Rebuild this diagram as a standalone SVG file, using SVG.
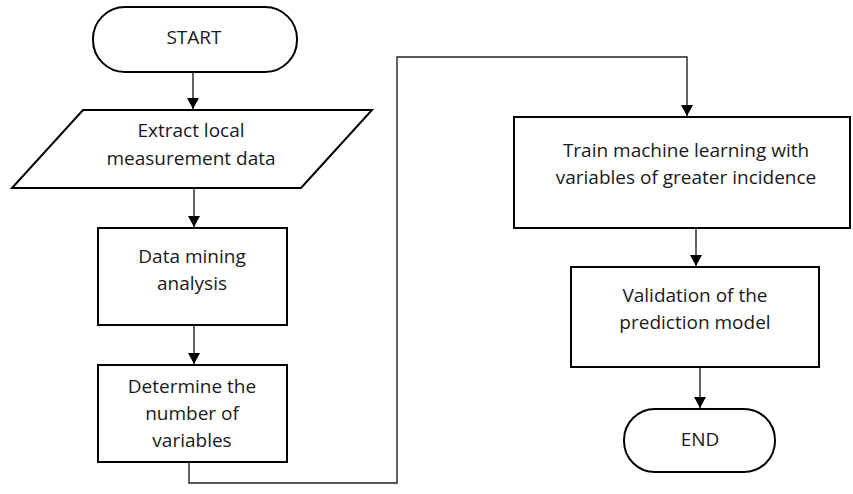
<svg xmlns="http://www.w3.org/2000/svg" width="853" height="494" viewBox="0 0 853 494">
<defs>
<marker id="ah" markerUnits="userSpaceOnUse" markerWidth="12" markerHeight="12" refX="11" refY="6" orient="auto" viewBox="0 0 12 12">
<path d="M0,0 L11,6 L0,12 Z" fill="#000"/>
</marker>
<style>
.shape{fill:#fff;stroke:#000;stroke-width:2}
.t{font-family:"Open Sans","Liberation Sans",sans-serif;font-size:19px;fill:#1a1a1a;text-anchor:middle}
.c{fill:none;stroke:#222;stroke-width:1.4}
</style>
</defs>
<rect width="853" height="494" fill="#fff"/>
<g id="connectors">
<line class="c" x1="193" y1="72" x2="193" y2="109" marker-end="url(#ah)"/>
<line class="c" x1="194" y1="188" x2="194" y2="227" marker-end="url(#ah)"/>
<line class="c" x1="194" y1="325" x2="194" y2="364" marker-end="url(#ah)"/>
<path class="c" d="M189,462 V483 H397 V57 H687 V116" stroke="#444" marker-end="url(#ah)"/>
<line class="c" x1="696" y1="228" x2="696" y2="266" marker-end="url(#ah)"/>
<line class="c" x1="700" y1="367" x2="700" y2="408" marker-end="url(#ah)"/>
</g>
<g id="start">
<rect class="shape" x="93" y="7" width="204" height="65" rx="32" ry="32"/>
<text class="t" x="194" y="44">START</text>
</g>
<g id="extract">
<polygon class="shape" points="83,110 372,110 301,188 12,188"/>
<text class="t" x="191" y="137">Extract local</text>
<text class="t" x="191" y="165">measurement data</text>
</g>
<g id="mining">
<rect class="shape" x="98" y="228" width="189" height="97"/>
<text class="t" x="192" y="263">Data mining</text>
<text class="t" x="192" y="290">analysis</text>
</g>
<g id="determine">
<rect class="shape" x="98" y="365" width="189" height="97"/>
<text class="t" x="192" y="393">Determine the</text>
<text class="t" x="192" y="420">number of</text>
<text class="t" x="192" y="447">variables</text>
</g>
<g id="train">
<rect class="shape" x="514" y="117" width="336" height="111"/>
<text class="t" x="686" y="157">Train machine learning with</text>
<text class="t" x="686" y="184">variables of greater incidence</text>
</g>
<g id="validation">
<rect class="shape" x="571" y="267" width="248" height="100"/>
<text class="t" x="695" y="302">Validation of the</text>
<text class="t" x="695" y="329">prediction model</text>
</g>
<g id="end">
<rect class="shape" x="624" y="409" width="151" height="63" rx="31" ry="31"/>
<text class="t" x="700" y="446">END</text>
</g>
</svg>
